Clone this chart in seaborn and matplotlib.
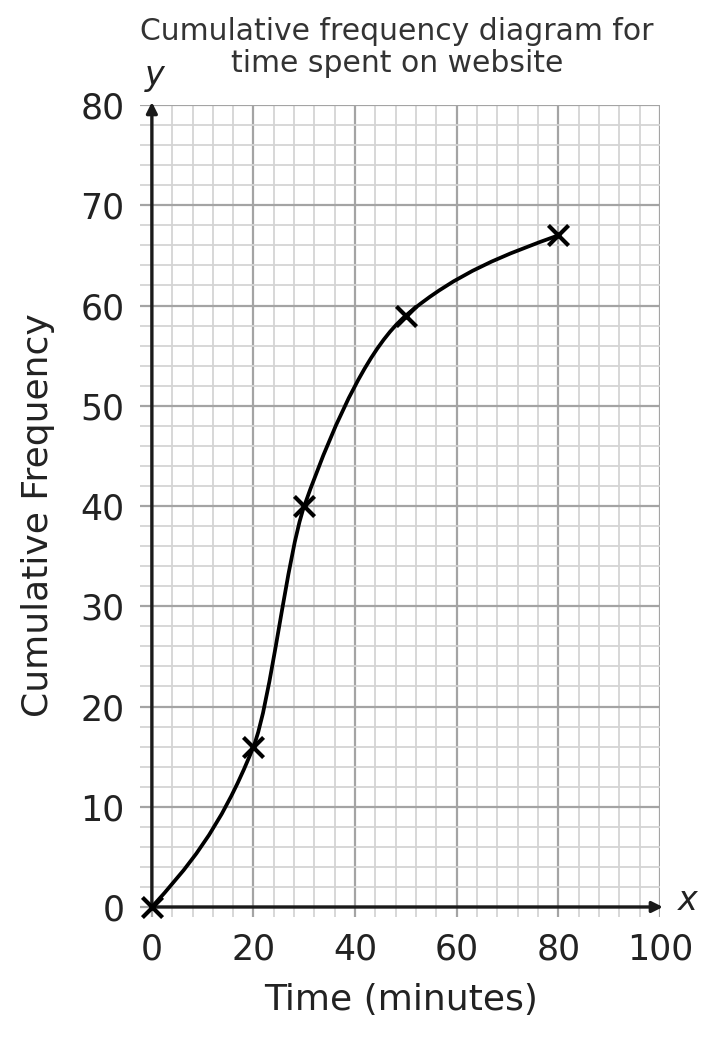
import numpy as np
import matplotlib
matplotlib.use("Agg")
import matplotlib.pyplot as plt
from matplotlib.path import Path
from matplotlib.patches import PathPatch
from matplotlib.ticker import MultipleLocator
import seaborn as sns
import pandas as pd

# ---- data ----
time_minutes = [0, 20, 30, 50, 80]
cumulative_frequency = [0, 16, 40, 59, 67]
x_ticks = [0, 20, 40, 60, 80, 100]
y_ticks = [0, 10, 20, 30, 40, 50, 60, 70, 80]
title_lines = ["Cumulative frequency diagram for", "time spent on website"]
x_label = "Time (minutes)"
y_label = "Cumulative Frequency"

sns.set_theme(style="white")
plt.rcParams['font.family'] = ['DejaVu Sans']

fig = plt.figure(figsize=(7.2, 10.37), dpi=100)
ax = fig.add_axes([0.194, 0.1157, 0.7225, 0.783])
ax.set_xlim(-2.4, 100)
ax.set_ylim(-1, 80)
for s in ax.spines.values():
    s.set_visible(False)

ax.xaxis.set_major_locator(MultipleLocator(20))
ax.xaxis.set_minor_locator(MultipleLocator(4))
ax.yaxis.set_major_locator(MultipleLocator(10))
ax.yaxis.set_minor_locator(MultipleLocator(2))
ax.grid(which='minor', color='#d4d4d4', linewidth=1.3, zorder=0)
ax.grid(which='major', color='#a4a4a4', linewidth=1.6, zorder=0)
ax.set_axisbelow(True)
ax.set_xticks(x_ticks)
ax.set_yticks(y_ticks)
ax.tick_params(which='both', length=0)
ax.tick_params(axis='x', pad=11, labelsize=25, labelcolor='#222222')
ax.tick_params(axis='y', pad=11, labelsize=25, labelcolor='#222222')

# axes with arrows
arrow_kw = dict(arrowstyle='-|>', lw=2.4, color='#1a1a1a', mutation_scale=16,
                shrinkA=0, shrinkB=0)
ax.annotate('', xy=(100.6, 0), xytext=(0, 0), arrowprops=arrow_kw,
            annotation_clip=False, zorder=3)
ax.annotate('', xy=(0, 80.3), xytext=(0, 0), arrowprops=arrow_kw,
            annotation_clip=False, zorder=3)

# smooth curve through the points (monotone Hermite rendered as Bezier path)
xs = np.array(time_minutes, float)
ys = np.array(cumulative_frequency, float)
h = np.diff(xs)
d = np.diff(ys) / h
m = np.zeros_like(xs)
for k in range(1, len(xs) - 1):
    w1 = 2 * h[k] + h[k - 1]
    w2 = h[k] + 2 * h[k - 1]
    m[k] = (w1 + w2) / (w1 / d[k - 1] + w2 / d[k])
m[0] = (3 * d[0] - m[1]) / 2
m[-1] = (3 * d[-1] - m[-2]) / 2
verts = [(xs[0], ys[0])]
codes = [Path.MOVETO]
for k in range(len(xs) - 1):
    verts += [(xs[k] + h[k] / 3, ys[k] + m[k] * h[k] / 3),
              (xs[k + 1] - h[k] / 3, ys[k + 1] - m[k + 1] * h[k] / 3),
              (xs[k + 1], ys[k + 1])]
    codes += [Path.CURVE4] * 3
ax.add_patch(PathPatch(Path(verts, codes), facecolor='none', edgecolor='black',
                       linewidth=2.7, zorder=4, capstyle='round'))

df = pd.DataFrame({"t": time_minutes, "cf": cumulative_frequency})
sns.scatterplot(data=df, x="t", y="cf", marker='x', s=210, color='black',
                linewidth=3.0, ax=ax, zorder=5, clip_on=False)
ax.set_xlabel('')
ax.set_ylabel('')

fig.text(397 / 720, 1 - 31 / 1037, title_lines[0], ha='center', va='center',
         fontsize=21.5, color='#333333')
fig.text(397 / 720, 1 - 64 / 1037, title_lines[1], ha='center', va='center',
         fontsize=21.5, color='#333333')
fig.text(401 / 720, 1 - 1000 / 1037, x_label, ha='center', va='center',
         fontsize=26, color='#222222')
fig.text(38 / 720, 1 - 515 / 1037, y_label, ha='center', va='center',
         rotation=90, fontsize=26, color='#222222')
fig.text(155 / 720, 1 - 75 / 1037, 'y', ha='center', va='center',
         fontsize=24, style='italic', color='#222222')
fig.text(688 / 720, 1 - 900 / 1037, 'x', ha='center', va='center',
         fontsize=24, style='italic', color='#222222')

fig.savefig('out.png', dpi=100, facecolor='white')
